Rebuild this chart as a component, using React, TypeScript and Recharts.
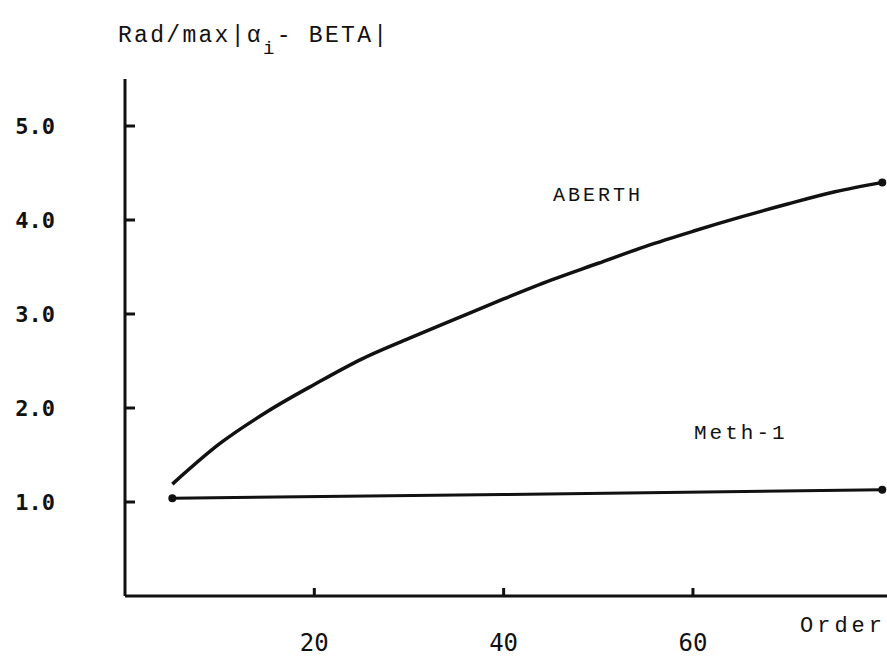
import { LineChart, Line, XAxis, YAxis } from "recharts";

// ABERTH curve
const aberthOrders = [5, 10, 15, 20, 25, 30, 35, 40, 45, 50, 55, 60, 65, 70, 75, 80];
const aberthValues = [1.19, 1.62, 1.96, 2.25, 2.52, 2.74, 2.95, 3.16, 3.36, 3.54, 3.72, 3.88, 4.03, 4.17, 4.3, 4.4];

// Meth-1 is nearly flat
const meth1Orders = [5, 40, 80];
const meth1Values = [1.04, 1.08, 1.13];

const xTicks = [20, 40, 60];
const yTicks = [1, 2, 3, 4, 5];

const aberthData = aberthOrders.map((order, i) => ({ order, value: aberthValues[i] }));
const meth1Data = meth1Orders.map((order, i) => ({ order, value: meth1Values[i] }));

const INK = "#111";
const mono = "'Liberation Mono', 'DejaVu Sans Mono', monospace";
const gothic = "'DejaVu Sans Mono', monospace";

const XTick = (props: any) => {
  const { x, y, payload } = props;
  return (
    <g>
      <line x1={x} y1={y} x2={x} y2={y - 8} stroke={INK} strokeWidth={3} />
      <text x={x} y={y + 55} textAnchor="middle" fontFamily={gothic} fontSize={24} fill={INK}>
        {payload.value}
      </text>
    </g>
  );
};

const YTick = (props: any) => {
  const { x, y, payload } = props;
  return (
    <g>
      <line x1={x} y1={y} x2={x + 10} y2={y} stroke={INK} strokeWidth={3} />
      <text x={x - 70} y={y + 8} textAnchor="end" fontFamily={gothic} fontSize={22} fontWeight="bold" fill={INK}>
        {Number(payload.value).toFixed(1)}
      </text>
    </g>
  );
};

// only draw dots at chosen indices
const endDot = (indices: number[]) => (props: any) => {
  const { cx, cy, index } = props;
  if (!indices.includes(index)) return <g key={index} />;
  return <circle key={index} cx={cx} cy={cy} r={4} fill={INK} />;
};

const label = (left: number, top: number, size: number, spacing: number, family = mono) => ({
  position: "absolute" as const,
  left,
  top,
  fontFamily: family,
  fontSize: size,
  letterSpacing: spacing,
  lineHeight: 1,
  color: INK,
  whiteSpace: "nowrap" as const,
});

export default function App() {
  return (
    <div style={{ position: "fixed", left: 0, top: 0, width: 887, height: 666, background: "#fff", overflow: "hidden" }}>
      <style>{"html,body{margin:0;overflow:hidden}"}</style>
      <LineChart width={887} height={666} margin={{ top: 79, right: 0, bottom: 0, left: 0 }}>
        <XAxis
          dataKey="order"
          type="number"
          domain={[0, 80.5]}
          ticks={xTicks}
          tick={XTick}
          tickLine={false}
          tickSize={0}
          tickMargin={0}
          height={70}
          axisLine={{ stroke: INK, strokeWidth: 3 }}
        />
        <YAxis
          type="number"
          domain={[0, 5.5]}
          ticks={yTicks}
          tick={YTick}
          tickLine={false}
          tickSize={0}
          tickMargin={0}
          width={125}
          axisLine={{ stroke: INK, strokeWidth: 3 }}
        />
        <Line
          data={aberthData}
          dataKey="value"
          type="monotone"
          stroke={INK}
          strokeWidth={3.5}
          dot={endDot([aberthData.length - 1])}
          activeDot={false}
          isAnimationActive={false}
        />
        <Line
          data={meth1Data}
          dataKey="value"
          type="linear"
          stroke={INK}
          strokeWidth={3}
          dot={endDot([0, meth1Data.length - 1])}
          activeDot={false}
          isAnimationActive={false}
        />
      </LineChart>
      <div style={label(118, 25, 23, 2.3)}>
        Rad/max|α<sub style={{ fontSize: 19, verticalAlign: -12 }}>i</sub>- BETA|
      </div>
      <div style={label(553, 186, 20, 3)}>ABERTH</div>
      <div style={label(694, 423, 21, 3)}>Meth-1</div>
      <div style={label(800, 616, 22, 4)}>Order</div>
    </div>
  );
}
